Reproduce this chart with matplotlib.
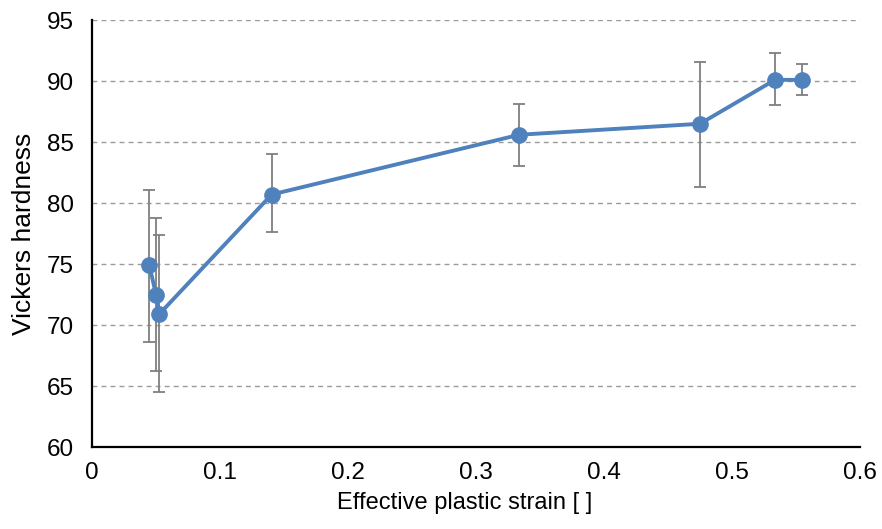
import numpy as np
import matplotlib.pyplot as plt

plt.rcParams['font.family'] = ['Liberation Sans', 'DejaVu Sans']

# данные
strain = [0.0448, 0.0500, 0.0526, 0.1404, 0.3338, 0.4750, 0.5336, 0.5545]
hardness = [74.9, 72.5, 70.9, 80.7, 85.6, 86.5, 90.1, 90.1]
err_top = [81.1, 78.8, 77.4, 84.0, 88.1, 91.6, 92.3, 91.4]
err_bot = [68.6, 66.2, 64.5, 77.6, 83.0, 81.3, 88.0, 88.9]

hardness = np.array(hardness)
yerr = [hardness - np.array(err_bot), np.array(err_top) - hardness]

fig = plt.figure(figsize=(8.82, 5.29), dpi=100)
ax = fig.add_axes([0.1043, 0.155, 0.8707, 0.807])

ax.errorbar(strain, hardness, yerr=yerr, fmt='none', ecolor='#7f7f7f',
            elinewidth=1.3, capsize=4.5, capthick=1.3, zorder=2)
ax.plot(strain, hardness, '-o', color='#4f81bd', linewidth=2.8,
        markersize=11, zorder=3)

ax.set_xlim(0, 0.6)
ax.set_ylim(60, 95)
ax.set_xticks(np.arange(0, 0.61, 0.1))
ax.set_xticklabels(['0', '0.1', '0.2', '0.3', '0.4', '0.5', '0.6'])
ax.set_yticks(np.arange(60, 96, 5))

ax.yaxis.grid(True, linestyle=(0, (3.5, 3)), color='#9a9a9a', linewidth=1)
ax.set_axisbelow(True)
for s in ['top', 'right']:
    ax.spines[s].set_visible(False)
ax.spines['left'].set_linewidth(1.6)
ax.spines['bottom'].set_linewidth(1.6)
ax.tick_params(length=0, labelsize=17.5)
ax.tick_params(axis='y', pad=13)
ax.tick_params(axis='x', pad=11)

ax.set_xlabel('Effective plastic strain [ ]', fontsize=17, labelpad=5)
ax.xaxis.set_label_coords(0.485, -0.105)
ax.set_ylabel('Vickers hardness', fontsize=19)
ax.yaxis.set_label_coords(-0.073, 0.5)

fig.savefig('out.png', dpi=100)
